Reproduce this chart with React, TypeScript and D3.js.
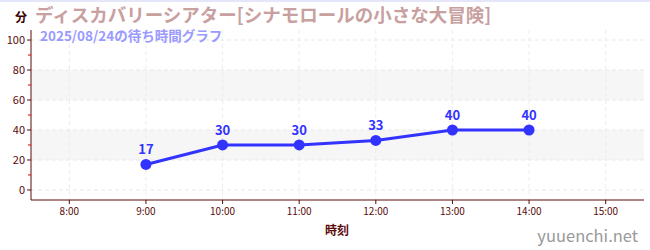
import React from "react";
import * as d3 from "d3";

const hours = [9, 10, 11, 12, 13, 14];
const waits = [17, 30, 30, 33, 40, 40];
const xTicks = [8, 9, 10, 11, 12, 13, 14, 15];
const yTicks = [0, 20, 40, 60, 80, 100];
const yMinor = [10, 30, 50, 70, 90];
const bands = [[20, 40], [60, 80]];
const title = "ディスカバリーシアター[シナモロールの小さな大冒険]";
const subtitle = "2025/08/24の待ち時間グラフ";

const W = 650, H = 250;
const FONT = "'Noto Sans CJK JP', 'Noto Sans', sans-serif";

export default function App() {
  const x = d3.scaleLinear().domain([7.5, 15.5]).range([31, 644]);
  const y = d3.scaleLinear().domain([-6.7, 106.7]).range([200, 30]);
  const line = d3.line<number>().x((_, i) => x(hours[i])).y((d) => y(d));
  const axisColor = "#5a0a0a";
  return (
    <svg width={W} height={H} style={{ position: "absolute", left: 0, top: 0, fontFamily: FONT }}>
      <rect x={0} y={0} width={W} height={H} fill="#fff" />
      <rect x={0} y={0} width={W} height={2} fill="#e6e6fa" />
      {bands.map(([a, b], i) => (
        <rect key={i} x={31} y={y(b)} width={644 - 31} height={y(a) - y(b)} fill="#f6f6f6" />
      ))}
      {yTicks.map((t) => (
        <line key={"gy" + t} x1={31} x2={644} y1={y(t)} y2={y(t)} stroke="#e8e8e8" strokeDasharray="4,3" />
      ))}
      {xTicks.map((t) => (
        <line key={"gx" + t} x1={x(t)} x2={x(t)} y1={30} y2={200} stroke="#ececec" strokeDasharray="4,3" />
      ))}
      <line x1={31} x2={31} y1={30} y2={200} stroke={axisColor} strokeWidth={1} />
      <line x1={31} x2={644} y1={200} y2={200} stroke={axisColor} strokeWidth={1} />
      {yTicks.map((t) => (
        <g key={"ty" + t}>
          <line x1={27} x2={31} y1={y(t)} y2={y(t)} stroke={axisColor} />
          <text x={25} y={y(t)} dy="0.35em" textAnchor="end" fontSize={11} fill={axisColor}>{t}</text>
        </g>
      ))}
      {yMinor.map((t) => (
        <line key={"my" + t} x1={28} x2={31} y1={y(t)} y2={y(t)} stroke="#d00" />
      ))}
      {xTicks.map((t) => (
        <g key={"tx" + t}>
          <line x1={x(t)} x2={x(t)} y1={200} y2={204} stroke={axisColor} />
          <text x={x(t)} y={215} textAnchor="middle" fontSize={10} fill={axisColor}>{`${t}:00`}</text>
        </g>
      ))}
      <text x={337} y={235} textAnchor="middle" fontSize={12} fontWeight="bold" fill={axisColor}>時刻</text>
      <text x={15} y={22} fontSize={12} fontWeight="bold" fill="#3a0000">分</text>
      <text x={35} y={22} fontSize={18.5} fontWeight="bold" fill="#c9a0a0">{title}</text>
      <text x={40} y={41} fontSize={13.5} fontWeight="bold" fill="#9a9aff">{subtitle}</text>
      <path d={line(waits) || ""} fill="none" stroke="#3333ff" strokeWidth={3} />
      {waits.map((v, i) => (
        <g key={"p" + i}>
          <circle cx={x(hours[i])} cy={y(v)} r={5.5} fill="#3333ff" />
          <text x={x(hours[i])} y={y(v) - 10} textAnchor="middle" fontSize={13} fontWeight="bold" fill="#3333ff">{v}</text>
        </g>
      ))}
      <text x={638} y={242} textAnchor="end" fontSize={16.5} fill="#999">yuuenchi.net</text>
    </svg>
  );
}
